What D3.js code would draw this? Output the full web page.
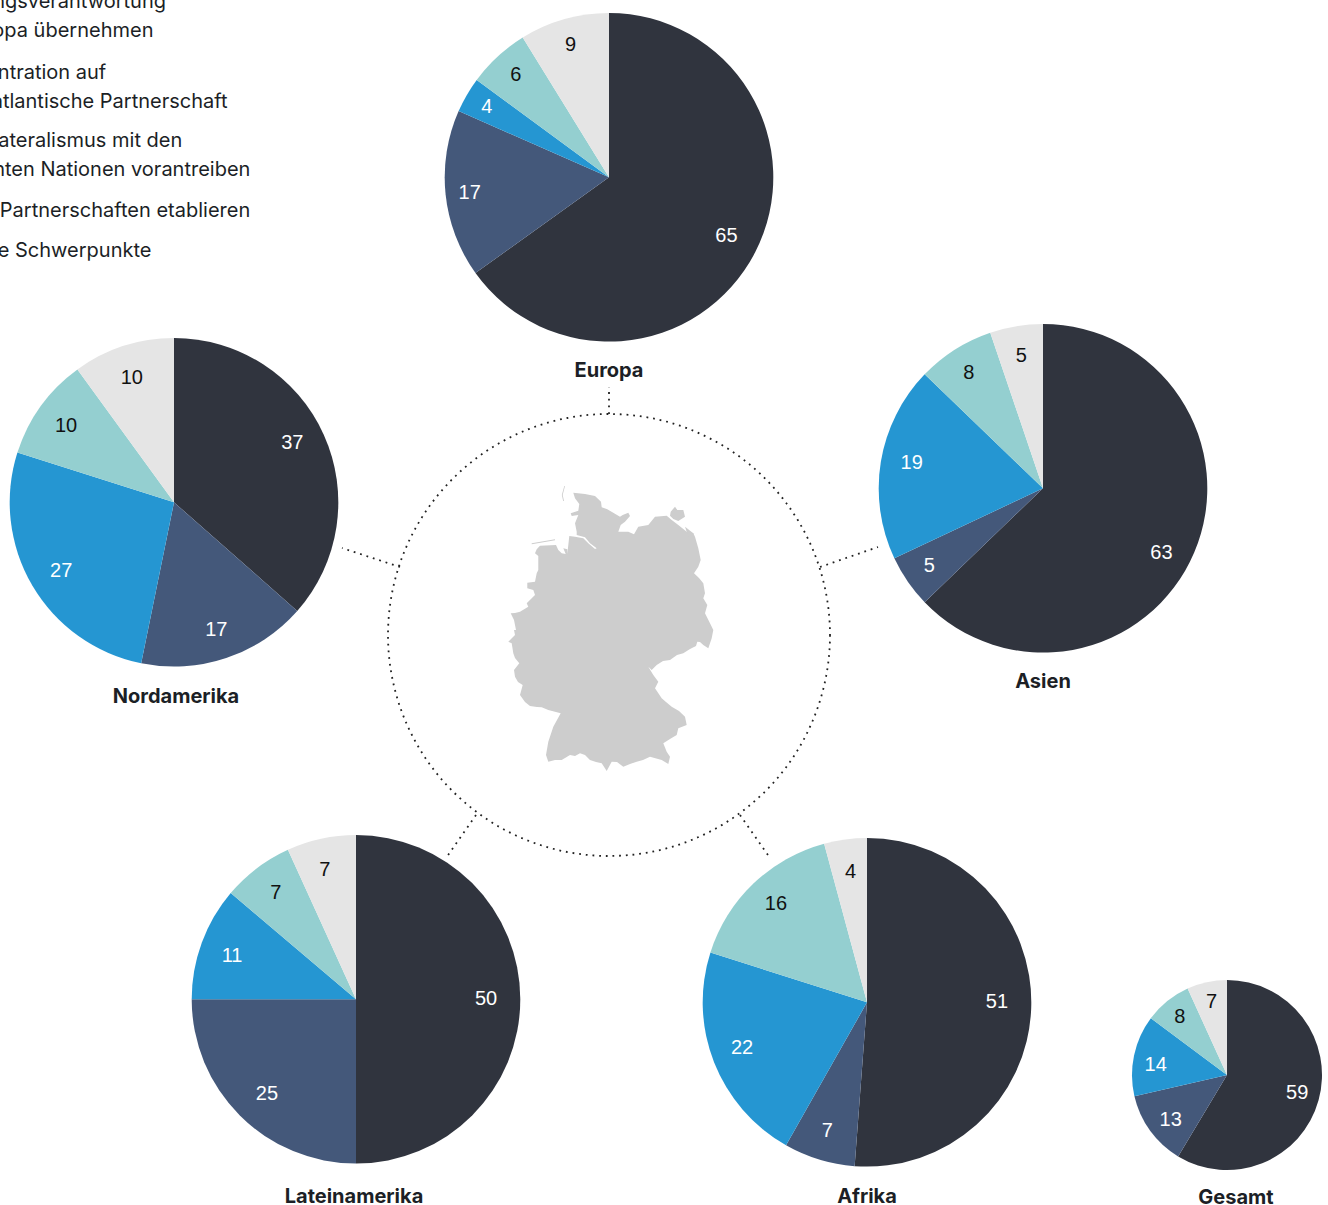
<!DOCTYPE html>
<html>
<head>
<meta charset="utf-8">
<script src="https://cdn.jsdelivr.net/npm/d3@7"></script>
<style>
    html, body { margin: 0; padding: 0; background: #fff; overflow: hidden; }
    svg { display: block; }
    text { font-family: Inter, sans-serif; }
</style>
</head>
<body>
<svg id="chart" width="1328" height="1205"></svg>
<script>
// Values, the printed labels are these rounded
const categories = ["Führung", "Transatlantik", "Multilateralismus", "Neue Partnerschaften", "Andere"];
const europa = [65.1, 16.5, 3.5, 6.1, 8.8];
const asien = [62.8, 5.2, 19.2, 7.6, 5.2];
const nordamerika = [36.5, 16.7, 26.7, 10.1, 10];
const lateinamerika = [50, 25, 11.2, 7, 6.8];
const afrika = [51.2, 7, 21.7, 15.9, 4.2];
const gesamt = [58.6, 12.8, 13.8, 8, 6.8];

// text, x, y. x differs a bit per line so the line ends fall where they should
const legendLines = [
    ["Führungsverantwortung", -61, 8],
    ["in Europa übernehmen", -61, 37],
    ["Konzentration auf", -61, 79],
    ["transatlantische Partnerschaft", -56, 108],
    ["Multilateralismus mit den", -53, 147],
    ["Vereinten Nationen vorantreiben", -55, 176],
    ["Neue Partnerschaften etablieren", -56, 217],
    ["Andere Schwerpunkte", -59, 257]
];

const colors = d3.scaleOrdinal()
    .domain(categories)
    .range(["#30343e", "#44587a", "#2596d2", "#94cfd0", "#e5e5e5"]);
const label_colors = d3.scaleOrdinal()
    .domain(categories)
    .range(["#fff", "#fff", "#fff", "#111", "#111"]);

// nudge: hand placed labels, offset from the slice centroid
const pies = [
    { name: "Europa", values: europa, cx: 609, cy: 177.3, r: 164.3, name_x: 609, name_y: 377,
      nudge: [[-1, -3], [-7, 1], [-7, -5], [-3, -6], [-2, -5]] },
    { name: "Asien", values: asien, cx: 1043, cy: 488.3, r: 164.3, name_x: 1043, name_y: 688,
      nudge: [[-4, 11], [-4, 1], [0, -5], [-3, -4], [0, -2]] },
    { name: "Nordamerika", values: nordamerika, cx: 174, cy: 502.3, r: 164.3, name_x: 176, name_y: 703,
      nudge: [[-3, -6], [0, 0], [2, 0], [0, 0], [-1, 1]] },
    { name: "Lateinamerika", values: lateinamerika, cx: 356, cy: 999.3, r: 164.3, name_x: 354, name_y: 1203,
      nudge: [[-3, -2], [5, -1], [1, 1], [0, -1], [-3, 0]] },
    { name: "Afrika", values: afrika, cx: 867, cy: 1002.3, r: 164.3, name_x: 867, name_y: 1203,
      nudge: [[-3, -7], [-1, 0], [-1, -4], [1, -3], [1, 0]] },
    { name: "Gesamt", values: gesamt, cx: 1227, cy: 1075, r: 95, name_x: 1236, name_y: 1204,
      nudge: [[-4, -4], [6, -1], [4, 5], [1, 1], [1, 1]] }
];

// Centre circle and the dotted connectors, [x, y] seen from the circle centre
const hub = { cx: 609, cy: 635, r: 221 };
const connectors = [
    [[0, -221], [0, -248]],
    [[-209, -68], [-267, -87]],
    [[211, -68], [269, -88]],
    [[-133, 180], [-163, 223]],
    [[131, 180], [159, 220]]
];

// Germany outline
const germany = "M573.3,492.7L585,494L595,496L601,501.7L601.7,507.3L607.3,509.3L620,516.7L622.7,515L628.3,512.7L630,516L625,521.7L620.7,525L618.3,531.7L628.3,531.7L634,534.3L638.3,526.7L648.3,525L655,516.7L666.7,515.7L671.7,520L678.3,525L686.7,531.7L695,536.7L698.3,548.3L700.7,560L698.3,566.7L694,573.3L699,578L703.3,583.3L705,593.3L703.3,598.3L707.3,605L705,613.3L710,623.3L713.3,630L711.7,638.3L708.3,648.3L703.3,645L700,642L697.3,641.7L696,646L690,649L683.3,653.3L677,655L670,660L663,661L656.7,665L651.7,670L648.3,666.7L653.3,675L658.3,681.7L655,688.3L661.7,698.3L666,702L671.7,706.7L679,711L685,716.7L686.7,725L678.3,728.3L676.7,735L670,739L663.3,743.3L666.7,751.7L670,756.7L668.3,764L661.7,760L650,756.7L643,760L636.7,761.7L630,764L623.3,766.7L617,762L611.7,761.7L606.7,771L601.7,763.3L596,762L590,760L585,755L580,753.3L575,756L570,755L561.7,760L555,760L548.3,761.7L546,755L548.3,741.7L553.3,726.7L557,720L560.7,713.3L548.3,710L541.7,707.3L537,707L530,706L525,702L520,695L522.7,685L518,682L515,676.7L514,670L519.3,663.3L515,658L513.3,653.3L511.7,643.3L508.3,641.7L515,635L514,630L516,630L514,620L510.7,613.3L515,613L520,611.7L528.3,606.7L526.7,603.3L535,595L533.3,590L527.3,588.3L527.3,582.7L535,581.7L536.7,573.3L538.3,570L538.3,556L535,553.3L536.7,549.3L540,545.7L556,545L558.3,550L561.7,553.3L565.7,554L563.3,548.3L567.3,549.3L567.3,554L569.3,536L575,536.7L583.3,538.3L588.3,543.3L595,549L596.7,548.3L590,543.3L585,537.3L576.7,535L576.7,531.7L575,523.3L578.3,515L571.7,516L570.7,513.3L578.3,510.7L579.3,504L575,498.3Z";
const germany_islands = [
    "M565,486L562.7,495L564,501L563.2,501L561.8,495L564.3,486Z",
    "M670.7,511.7L675,506.7L677.3,510L683.3,510L685,516.7L678.3,521L673.3,519L670,515.7Z",
    "M685,526.7L693.3,533.3L695,536.7L688.3,536.7Z",
    "M531.7,543.3L555,539.3L555,540.2L531.7,544.2Z"
];

const svg = d3.select("#chart");
const pie = d3.pie().sort(null).value(d => d.value);

// Legend, cut off by the page on the left
svg.append("g").selectAll("text")
    .data(legendLines)
    .join("text")
    .attr("x", d => d[1])
    .attr("y", d => d[2])
    .attr("font-size", 20)
    .attr("fill", "#1c1f26")
    .text(d => d[0]);

// Hub
svg.append("circle")
    .attr("cx", hub.cx).attr("cy", hub.cy).attr("r", hub.r)
    .attr("fill", "none")
    .attr("stroke", "#222")
    .attr("stroke-width", 1.8)
    .attr("stroke-dasharray", "1.8 4.9");

svg.append("g").selectAll("line")
    .data(connectors)
    .join("line")
    .attr("x1", d => hub.cx + d[0][0]).attr("y1", d => hub.cy + d[0][1])
    .attr("x2", d => hub.cx + d[1][0]).attr("y2", d => hub.cy + d[1][1])
    .attr("stroke", "#222")
    .attr("stroke-width", 1.8)
    .attr("stroke-dasharray", "1.8 4.9");

svg.append("path").attr("d", germany).attr("fill", "#cdcdcd");
svg.append("g").selectAll("path")
    .data(germany_islands)
    .join("path")
    .attr("d", d => d)
    .attr("fill", "#cdcdcd");

// Pies
pies.forEach(p => {
    const data = p.values.map((value, i) => ({ value: value, cat: categories[i] }));
    const arcs = pie(data);
    const arc = d3.arc().innerRadius(0).outerRadius(p.r);
    const label_arc = d3.arc().innerRadius(p.r * 0.81).outerRadius(p.r * 0.81);

    const g = svg.append("g")
        .attr("class", "pie")
        .attr("transform", `translate(${p.cx},${p.cy})`);

    g.selectAll("path")
        .data(arcs)
        .join("path")
        .attr("d", arc)
        .attr("fill", d => colors(d.data.cat));

    g.selectAll("text")
        .data(arcs)
        .join("text")
        .attr("transform", (d, i) => {
            const c = label_arc.centroid(d);
            return `translate(${c[0] + p.nudge[i][0]},${c[1] + p.nudge[i][1]})`;
        })
        .attr("text-anchor", "middle")
        .attr("dy", "0.36em")
        .style("font-family", "'Liberation Sans', sans-serif")
        .attr("font-size", 20)
        .attr("fill", d => label_colors(d.data.cat))
        .text(d => Math.round(d.data.value));

    svg.append("text")
        .attr("x", p.name_x)
        .attr("y", p.name_y)
        .attr("text-anchor", "middle")
        .attr("font-size", 20)
        .attr("font-weight", 700)
        .attr("fill", "#1c1f26")
        .text(p.name);
});
</script>
</body>
</html>
